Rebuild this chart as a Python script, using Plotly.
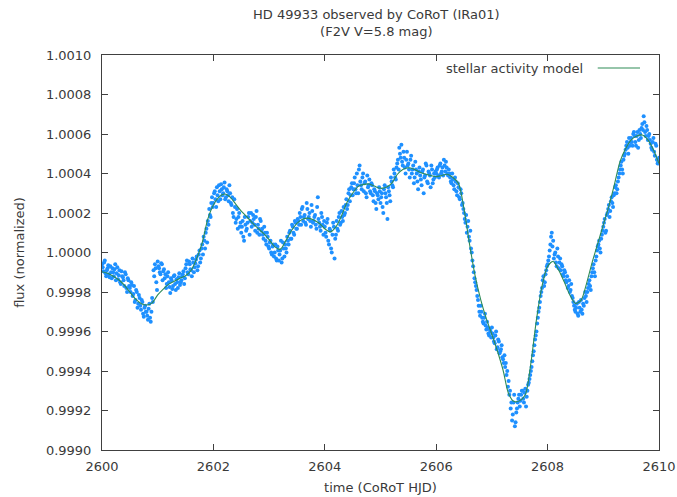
import plotly.graph_objects as go

# ---------------- data (flux in ppm relative to 1.0) ----------------
obs_start = 2600.0
obs_step = 0.025  # days between samples of each interleaved set

obs_ppm = [
    # 2600.0
    -60, -95, -40, -120, -80, -110, -70, -130, -100, -85, -140, -75, -115, -150, -95, -125, -170, -110, -200, -140,
    # 2600.5
    -180, -150, -220, -170, -240, -200, -260, -230, -290, -250, -325, -270, -300, -340, -260, -350, -230, -90, -60, -150,
    # 2601.0
    -45, -80, -110, -60, -95, -130, -180, -120, -150, -205, -140, -170, -115, -190, -150, -125, -165, -140, -110, -160,
    # 2601.5
    -80, -40, -110, -60, -90, -30, -100, -55, -20, -70, 10, -30, 40, 80, 20, 120, 160, 220, 180, 280,
    # 2602.0
    250, 310, 230, 290, 340, 270, 320, 300, 355, 280, 310, 260, 300, 240, 200, 270, 150, 220, 180, 130,
    # 2602.5
    100, 160, 60, 140, 120, 180, 90, 200, 150, 170, 110, 210, 140, 90, 160, 120, 70, 100, 40, 80,
    # 2603.0
    20, 60, -10, 40, 0, -30, 30, -40, 10, -50, 50, -20, 20, 80, 40, 110, 70, 130, 90, 150,
    # 2603.5
    120, 160, 200, 140, 230, 180, 150, 250, 170, 200, 130, 210, 160, 190, 120, 280, 150, 110, 180, 90,
    # 2604.0
    130, 80, 170, 40, 110, 0, 150, -30, 90, 120, 180, 140, 210, 160, 190, 240, 220, 300, 260, 330,
    # 2604.5
    290, 350, 320, 400, 300, 440, 340, 380, 310, 360, 280, 330, 370, 300, 340, 260, 310, 220, 290, 330,
    # 2605.0
    250, 300, 200, 340, 280, 170, 310, 260, 360, 330, 400, 370, 450, 420, 500, 545, 440, 480, 400, 510,
    # 2605.5
    450, 380, 490, 420, 350, 460, 400, 320, 430, 370, 410, 300, 390, 440, 350, 400, 330, 420, 370, 380,
    # 2606.0
    400, 430, 380, 450, 410, 390, 440, 460, 400, 420, 380, 350, 370, 320, 360, 290, 330, 270, 300, 250,
    # 2606.5
    200, 150, 100, 160, 60, 20, -40, -100, -150, -190, -240, -300, -270, -330, -360, -310, -390, -380, -420, -400,
    # 2607.0
    -380, -430, -460, -400, -480, -450, -500, -470, -540, -520, -560, -600, -650, -700, -760, -820, -720, -860, -790, -740,
    # 2607.5
    -780, -720, -700, -760, -690, -730, -670, -640, -600, -550, -500, -440, -400, -330, -280, -220, -180, -120, -150, -90,
    # 2608.0
    -60, -20, 40, 100, 60, -10, -50, 20, -80, -30, -60, -110, -90, -140, -120, -170, -200, -160, -230, -270,
    # 2608.5
    -300, -260, -320, -280, -240, -310, -270, -200, -250, -180, -140, -190, -100, -60, -120, -20, 30, 60, 0, 90,
    # 2609.0
    130, 170, 110, 200, 240, 210, 280, 230, 300, 340, 320, 380, 420, 460, 400, 490, 520, 560, 500, 540,
    # 2609.5 .. 2610.0
    580, 540, 610, 560, 590, 530, 620, 580, 650, 690, 610, 640, 570, 600, 550, 520, 580, 490, 540, 450, 480,
]

# second, interleaved set of samples (half a step later)
obs_ppm_b = [
    # 2600.0125
    -75, -50, -105, -90, -65, -125, -100, -80, -120, -60, -105, -135, -90, -160, -120, -140, -100, -180, -130, -170,
    # 2600.5125
    -200, -165, -210, -250, -190, -280, -215, -270, -240, -310, -280, -300, -320, -285, -330, -300, -250, -120, -80, -190,
    # 2601.0125
    -70, -100, -55, -140, -85, -110, -160, -100, -175, -130, -185, -120, -160, -135, -180, -105, -150, -120, -95, -130,
    # 2601.5125
    -60, -100, -45, -85, -120, -50, -75, -35, -90, -10, -50, 20, -10, 60, 100, 50, 140, 190, 250, 230,
    # 2602.0125
    300, 270, 330, 260, 310, 345, 290, 330, 270, 320, 290, 340, 250, 280, 180, 230, 170, 120, 200, 150,
    # 2602.5125
    130, 80, 180, 110, 150, 200, 160, 130, 190, 140, 180, 100, 120, 170, 110, 90, 130, 60, 100, 30,
    # 2603.0125
    50, 0, 30, -20, 40, -40, 10, -10, 60, -30, 20, 40, 0, 60, 100, 70, 140, 100, 160, 120,
    # 2603.5125
    170, 140, 180, 220, 160, 190, 140, 220, 180, 160, 240, 150, 180, 140, 230, 170, 130, 200, 140, 160,
    # 2604.0125
    100, 150, 60, 120, 20, 90, 130, 70, 160, 110, 200, 150, 180, 230, 200, 270, 240, 320, 290, 350,
    # 2604.5125
    320, 380, 300, 340, 420, 360, 320, 400, 350, 300, 390, 340, 310, 350, 290, 320, 250, 300, 270, 310,
    # 2605.0125
    280, 230, 320, 300, 250, 330, 290, 380, 340, 420, 380, 430, 470, 530, 480, 460, 510, 430, 470, 440,
    # 2605.5125
    420, 470, 400, 440, 380, 420, 360, 410, 390, 340, 420, 380, 450, 360, 410, 390, 440, 350, 400, 410,
    # 2606.0125
    420, 390, 440, 400, 430, 470, 410, 430, 390, 400, 360, 400, 340, 380, 310, 350, 280, 320, 240, 220,
    # 2606.5125
    170, 190, 130, 80, 110, 0, -70, -130, -170, -220, -270, -320, -300, -350, -330, -370, -350, -410, -390, -430,
    # 2607.0125
    -410, -450, -420, -490, -440, -510, -490, -530, -560, -580, -620, -680, -720, -790, -850, -760, -880, -810, -760, -720,
    # 2607.5125
    -750, -700, -740, -710, -780, -700, -660, -620, -580, -520, -470, -420, -360, -300, -250, -200, -140, -170, -110, -70,
    # 2608.0125
    -40, 10, 80, 30, -30, 0, -70, -20, -50, -90, -70, -120, -100, -150, -180, -140, -190, -220, -250, -290,
    # 2608.5125
    -280, -310, -250, -300, -290, -260, -230, -220, -200, -160, -170, -120, -80, -100, -40, 10, 40, 20, 70, 110,
    # 2609.0125
    150, 100, 190, 220, 180, 260, 250, 290, 330, 300, 360, 400, 440, 420, 470, 500, 540, 530, 580, 560,
    # 2609.5125
    560, 600, 590, 540, 610, 570, 600, 630, 620, 660, 590, 620, 590, 570, 530, 560, 510, 550, 470, 460,
]

model_start = 2600.0
model_step = 0.1
model_ppm = [
    -97, -105, -120, -138, -165, -200, -235, -258, -266, -255,     # 2600.0-2600.9
    -215, -185, -160, -145, -130, -118, -90, -30, 50, 170,         # 2601
    240, 280, 296, 280, 245, 210, 181, 150, 122, 97,               # 2602
    65, 30, 16, 60, 110, 148, 168, 174, 165, 148,                  # 2603
    120, 105, 130, 185, 255, 300, 335, 345, 347, 335,              # 2604
    325, 330, 350, 395, 420, 429, 422, 408, 398, 390,              # 2605
    384, 390, 396, 380, 350, 220, 40, -120, -240, -335,            # 2606
    -415, -500, -595, -715, -755, -750, -720, -560, -340, -170,    # 2607
    -70, -46, -90, -150, -215, -258, -242, -156, -50, 45,          # 2608
    140, 235, 345, 460, 525, 570, 590, 595, 570, 520, 450,         # 2609-2610
]

x_ticks = [2600, 2602, 2604, 2606, 2608, 2610]
y_ticks = [0.9990, 0.9992, 0.9994, 0.9996, 0.9998, 1.0000, 1.0002, 1.0004, 1.0006, 1.0008, 1.0010]

title_text = "HD 49933 observed by CoRoT (IRa01)<br>(F2V V=5.8 mag)"
legend_text = "stellar activity model"

# ---------------- derived series ----------------
time_obs = [round(obs_start + i * obs_step, 4) for i in range(len(obs_ppm))]
time_obs += [round(obs_start + obs_step / 2 + i * obs_step, 4) for i in range(len(obs_ppm_b))]
flux_obs = [1.0 + v * 1e-6 for v in obs_ppm + obs_ppm_b]
time_model = [round(model_start + i * model_step, 4) for i in range(len(model_ppm))]
flux_model = [1.0 + v * 1e-6 for v in model_ppm]

FONT = "DejaVu Sans"
TXT = "#3a3a3a"
AX = "#404040"
BLUE = "#1e90ff"
GREEN = "#2e8b57"

fig = go.Figure()
fig.add_trace(go.Scatter(
    x=time_obs, y=flux_obs, mode="markers",
    marker=dict(color=BLUE, size=4, line=dict(width=0)),
    showlegend=False, name="CoRoT flux"))
fig.add_trace(go.Scatter(
    x=time_model, y=flux_model, mode="lines",
    line=dict(color=GREEN, width=1.1, shape="spline", smoothing=0.8),
    showlegend=False, name=legend_text))

fig.update_layout(
    width=677, height=497,
    margin=dict(l=102, r=18, t=55, b=47, autoexpand=False),
    paper_bgcolor="white", plot_bgcolor="white",
    font=dict(family=FONT, size=13, color=TXT),
    showlegend=False,
)

fig.update_xaxes(
    range=[2600, 2610], tickvals=x_ticks, ticktext=[str(v) for v in x_ticks],
    ticks="inside", ticklen=6, tickcolor=AX, showline=True, linecolor=AX, linewidth=1,
    mirror="ticks", showgrid=False, zeroline=False, automargin=False,
    title=dict(text="time (CoRoT HJD)", standoff=10, font=dict(size=13)),
    ticklabelstandoff=4,
)
fig.update_yaxes(
    range=[0.9990, 1.0010], tickvals=y_ticks, ticktext=[f"{v:.4f}" for v in y_ticks],
    ticks="inside", ticklen=6, tickcolor=AX, showline=True, linecolor=AX, linewidth=1,
    mirror="ticks", showgrid=False, zeroline=False, automargin=False,
    title=dict(text="flux (normalized)", standoff=18, font=dict(size=13)),
    ticklabelstandoff=7,
)

# title (two lines) as an annotation above the plot area
fig.add_annotation(text=title_text, xref="paper", yref="paper",
                   x=0.492, y=1 + (55 - 5) / 395, xanchor="center", yanchor="top",
                   showarrow=False, align="center",
                   font=dict(family=FONT, size=13, color=TXT))

# legend entry drawn gnuplot-style: text then line sample
fig.add_annotation(text=legend_text, xref="paper", yref="paper",
                   x=0.868, y=0.967, xanchor="right", yanchor="middle",
                   showarrow=False, font=dict(family=FONT, size=13, color=TXT))
fig.add_shape(type="line", xref="paper", yref="paper",
              x0=0.890, x1=0.966, y0=0.967, y1=0.967,
              line=dict(color=GREEN, width=1.1))

fig.write_html("out.html")
